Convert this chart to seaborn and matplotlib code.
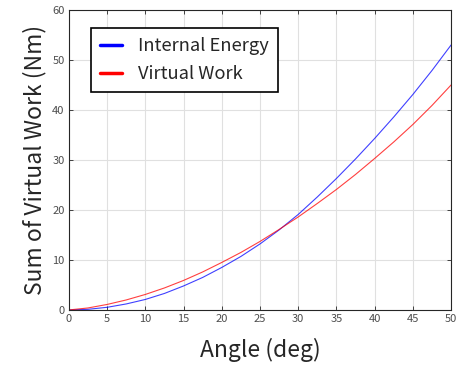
import seaborn as sns
import matplotlib.pyplot as plt
import pandas as pd

angle = [0, 2.5, 5, 7.5, 10, 12.5, 15, 17.5, 20, 22.5, 25, 27.5, 30, 32.5, 35, 37.5, 40, 42.5, 45, 47.5, 50]
internal_energy = [0, 0.13, 0.53, 1.2, 2.1, 3.3, 4.8, 6.5, 8.5, 10.7, 13.2, 16.0, 19.1, 22.6, 26.3, 30.2, 34.3, 38.6, 43.1, 47.9, 53.0]
virtual_work = [0, 0.4, 1.1, 2.0, 3.1, 4.4, 5.9, 7.6, 9.5, 11.5, 13.7, 16.1, 18.6, 21.3, 24.1, 27.1, 30.3, 33.6, 37.1, 40.9, 45.0]

df = pd.DataFrame({'angle': angle, 'Internal Energy': internal_energy, 'Virtual Work': virtual_work})

sns.set_style('whitegrid')
plt.rcParams['font.family'] = ['Noto Sans CJK KR', 'DejaVu Sans']

fig = plt.figure(figsize=(4.59, 3.78), dpi=100)
ax = fig.add_axes([0.150, 0.180, 0.833, 0.794])

sns.lineplot(data=df, x='angle', y='Internal Energy', color='#0000ff', lw=0.8, alpha=0.75, label='Internal Energy', ax=ax)
sns.lineplot(data=df, x='angle', y='Virtual Work', color='#ff0000', lw=0.8, alpha=0.75, label='Virtual Work', ax=ax)

ax.set_xlim(0, 50)
ax.set_ylim(0, 60)
ax.set_xticks(range(0, 51, 5))
ax.set_yticks(range(0, 61, 10))
ax.grid(True, color='#e0e0e0', lw=0.8)
for s in ax.spines.values():
    s.set_visible(True)
    s.set_color('#262626')
    s.set_linewidth(0.8)
ax.tick_params(direction='in', length=3, width=0.6, colors='#262626', labelcolor='#4d4d4d',
               labelsize=8, top=True, right=True, bottom=True, left=True, pad=3)
ax.set_xlabel('Angle (deg)', fontsize=16.5, labelpad=10)
ax.set_ylabel('Sum of Virtual Work (Nm)', fontsize=16.5, labelpad=4)

leg = ax.legend(loc='upper left', bbox_to_anchor=(0.057, 0.94), borderaxespad=0, fontsize=13.2,
                frameon=True, fancybox=False, edgecolor='black', framealpha=1, handlelength=1.2,
                handletextpad=0.9, borderpad=0.5, labelspacing=0.55)
leg.get_frame().set_linewidth(1.2)
for h in leg.get_lines():
    h.set_linewidth(2.5)
    h.set_alpha(1)

fig.savefig('out.png', dpi=100)
